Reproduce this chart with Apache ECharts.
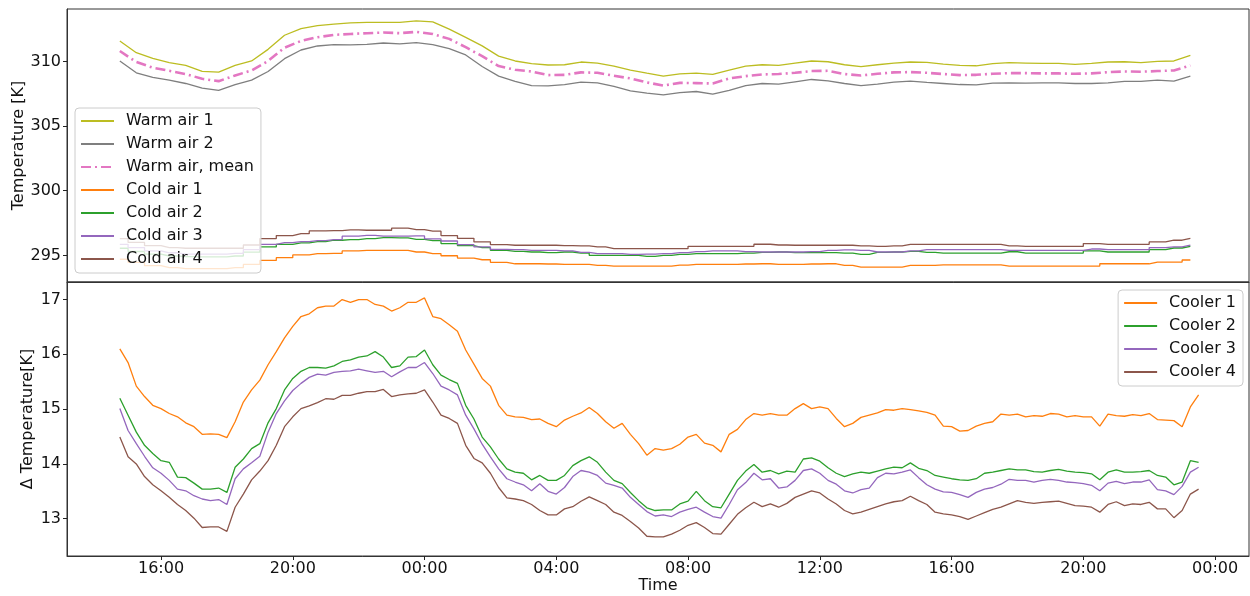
<!DOCTYPE html>
<html>
<head>
<meta charset="utf-8">
<title>Air temperatures and cooler delta</title>
<script src="https://cdn.jsdelivr.net/npm/echarts@6/dist/echarts.min.js"></script>
<style>
  html, body { margin: 0; padding: 0; background: #fff; }
  #main { width: 1250px; height: 596px; }
</style>
</head>
<body>
<div id="main"></div>
<script>
// sample grids (hours since midnight of day 1)
var airStart = 14.75, airStep = 0.5;        // top panel, every 30 min
var coolerStart = 14.75, coolerStep = 0.25; // bottom panel, every 15 min

// tick positions on the time axis (hours), shown as HH:00
var timeTicks = [16, 20, 24, 28, 32, 36, 40, 44, 48];
var tempTicks = [295, 300, 305, 310];
var deltaTicks = [13, 14, 15, 16, 17];

// top panel [K]
var warmAir1 = [311.58, 310.67, 310.23, 309.90, 309.69, 309.22, 309.17, 309.69, 310.03, 310.93, 312.02, 312.54, 312.77, 312.88, 312.98, 313.01, 313.01, 313.01, 313.13, 313.06, 312.49, 311.85,
  311.20, 310.41, 310.03, 309.82, 309.72, 309.74, 309.95, 309.87, 309.64, 309.33, 309.09, 308.86, 309.04, 309.09, 308.99, 309.33, 309.64, 309.74, 309.69, 309.87, 310.03, 309.97,
  309.74, 309.59, 309.74, 309.87, 309.95, 309.92, 309.79, 309.69, 309.66, 309.82, 309.90, 309.87, 309.84, 309.84, 309.77, 309.84, 309.95, 309.97, 309.90, 310.00, 310.03, 310.47];
var warmAir2 = [310.03, 309.12, 308.76, 308.55, 308.29, 307.93, 307.75, 308.21, 308.55, 309.22, 310.21, 310.88, 311.19, 311.30, 311.27, 311.32, 311.42, 311.35, 311.45, 311.30, 310.98, 310.50,
  309.60, 308.86, 308.45, 308.13, 308.11, 308.21, 308.39, 308.34, 308.06, 307.72, 307.54, 307.41, 307.59, 307.67, 307.46, 307.75, 308.13, 308.29, 308.24, 308.42, 308.60, 308.50,
  308.29, 308.13, 308.24, 308.39, 308.47, 308.37, 308.29, 308.21, 308.19, 308.32, 308.34, 308.32, 308.34, 308.34, 308.29, 308.29, 308.34, 308.45, 308.45, 308.55, 308.47, 308.86];
var warmMean = [310.80, 309.95, 309.51, 309.27, 309.02, 308.65, 308.47, 308.91, 309.30, 310.03, 311.06, 311.58, 311.87, 312.05, 312.12, 312.18, 312.23, 312.18, 312.28, 312.12, 311.74, 311.10,
  310.40, 309.64, 309.35, 309.22, 308.94, 308.96, 309.15, 309.12, 308.89, 308.68, 308.37, 308.13, 308.34, 308.32, 308.29, 308.68, 308.86, 308.99, 309.02, 309.12, 309.25, 309.27,
  309.02, 308.91, 309.04, 309.15, 309.17, 309.12, 309.02, 308.94, 308.96, 309.04, 309.09, 309.09, 309.07, 309.07, 309.04, 309.07, 309.17, 309.22, 309.20, 309.25, 309.30, 309.69];
var coldAir1 = [294.70, 294.45, 294.20, 294.05, 293.98, 293.97, 293.97, 294.05, 294.30,
  294.61, 294.82, 295.03, 295.13, 295.16, 295.34, 295.39, 295.39, 295.39, 295.26, 295.13, 294.97, 294.79, 294.66, 294.46, 294.35, 294.35, 294.33, 294.30, 294.30, 294.22, 294.17, 294.17, 294.17, 294.17, 294.25, 294.30, 294.30, 294.30, 294.33, 294.35, 294.30, 294.30, 294.33, 294.35,
  294.22, 294.09, 294.09, 294.09, 294.22, 294.22, 294.27, 294.27, 294.27, 294.27, 294.17, 294.17, 294.17, 294.17, 294.17, 294.17, 294.35, 294.35, 294.35, 294.48, 294.48, 294.64];
var coldAir2 = [295.55, 295.30, 295.10, 294.95, 294.90, 294.88, 294.88, 294.95, 295.25,
  295.65, 295.85, 295.96, 296.06, 296.17, 296.22, 296.30, 296.37, 296.35, 296.24, 296.14, 295.91, 295.75, 295.60, 295.39, 295.31, 295.26, 295.21, 295.26, 295.18, 295.00, 295.00, 295.00, 294.92, 295.00, 295.08, 295.13, 295.13, 295.13, 295.18, 295.23, 295.26, 295.21, 295.21, 295.21,
  295.18, 295.08, 295.23, 295.26, 295.31, 295.23, 295.18, 295.18, 295.18, 295.18, 295.28, 295.18, 295.18, 295.18, 295.18, 295.34, 295.26, 295.26, 295.26, 295.44, 295.57, 295.70];
var coldAir3 = [295.85, 295.60, 295.35, 295.20, 295.10, 295.10, 295.10, 295.15, 295.45,
  295.85, 295.98, 296.06, 296.14, 296.22, 296.48, 296.55, 296.48, 296.48, 296.50, 296.27, 296.11, 295.83, 295.65, 295.47, 295.44, 295.39, 295.39, 295.34, 295.23, 295.13, 295.13, 295.08, 295.10, 295.13, 295.21, 295.29, 295.34, 295.34, 295.29, 295.26, 295.26, 295.26, 295.29, 295.38,
  295.42, 295.39, 295.26, 295.26, 295.34, 295.44, 295.44, 295.44, 295.44, 295.44, 295.39, 295.39, 295.39, 295.39, 295.39, 295.49, 295.44, 295.44, 295.44, 295.60, 295.65, 295.80];
var coldAir4 = [296.30, 296.00, 295.75, 295.60, 295.55, 295.55, 295.55, 295.55, 295.80,
  296.30, 296.53, 296.68, 296.89, 296.92, 296.97, 296.94, 296.94, 297.10, 296.99, 296.87, 296.53, 296.32, 296.04, 295.83, 295.78, 295.78, 295.78, 295.75, 295.73, 295.65, 295.52, 295.52, 295.52, 295.52, 295.52, 295.70, 295.70, 295.70, 295.70, 295.86, 295.80, 295.78, 295.78, 295.78,
  295.78, 295.73, 295.70, 295.73, 295.85, 295.85, 295.85, 295.85, 295.85, 295.85, 295.73, 295.70, 295.70, 295.70, 295.70, 295.91, 295.85, 295.85, 295.85, 296.04, 296.17, 296.32];

// bottom panel, delta T [K]
var cooler1 = [16.10, 15.85, 15.42, 15.23, 15.07, 15.01, 14.92, 14.86, 14.75, 14.68, 14.54, 14.55, 14.54, 14.48, 14.77, 15.13, 15.35, 15.53, 15.81, 16.05, 16.30, 16.51, 16.69, 16.74, 16.85, 16.88, 16.88, 17.00, 16.95, 17.00, 17.00, 16.91, 16.88, 16.79, 16.85, 16.95, 16.95, 17.03, 16.69, 16.65, 16.54, 16.42, 16.08, 15.82,
  15.56, 15.42, 15.07, 14.89, 14.86, 14.85, 14.81, 14.82, 14.74, 14.68, 14.80, 14.87, 14.93, 15.03, 14.92, 14.77, 14.65, 14.74, 14.54, 14.37, 14.16, 14.28, 14.25, 14.28, 14.36, 14.49, 14.54, 14.38, 14.34, 14.22, 14.54, 14.63, 14.81, 14.92, 14.89, 14.92, 14.89, 14.89, 15.01, 15.10, 15.01, 15.04, 15.01, 14.83,
  14.68, 14.74, 14.85, 14.89, 14.93, 14.99, 14.98, 15.01, 14.99, 14.97, 14.94, 14.89, 14.69, 14.68, 14.60, 14.61, 14.69, 14.74, 14.77, 14.91, 14.89, 14.91, 14.86, 14.88, 14.87, 14.92, 14.91, 14.86, 14.88, 14.86, 14.86, 14.69, 14.91, 14.88, 14.87, 14.90, 14.88, 14.92, 14.81, 14.80, 14.79, 14.68, 15.04, 15.26];
var cooler2 = [15.20, 14.89, 14.58, 14.34, 14.19, 14.06, 14.03, 13.76, 13.75, 13.65, 13.54, 13.54, 13.56, 13.48, 13.94, 14.09, 14.28, 14.37, 14.75, 15.01, 15.35, 15.56, 15.69, 15.76, 15.76, 15.75, 15.79, 15.87, 15.90, 15.95, 15.97, 16.05, 15.95, 15.76, 15.79, 15.95, 15.96, 16.08, 15.81, 15.62, 15.54, 15.47, 15.07, 14.82,
  14.49, 14.31, 14.09, 13.91, 13.85, 13.83, 13.71, 13.79, 13.70, 13.70, 13.79, 13.97, 14.06, 14.13, 14.03, 13.85, 13.70, 13.64, 13.48, 13.33, 13.20, 13.15, 13.16, 13.16, 13.27, 13.32, 13.50, 13.33, 13.22, 13.20, 13.45, 13.70, 13.87, 13.99, 13.85, 13.88, 13.82, 13.87, 13.85, 14.09, 14.11, 14.05, 13.93, 13.83,
  13.77, 13.82, 13.85, 13.83, 13.87, 13.91, 13.94, 13.93, 14.02, 13.92, 13.88, 13.79, 13.76, 13.73, 13.71, 13.70, 13.73, 13.83, 13.85, 13.88, 13.91, 13.89, 13.89, 13.86, 13.85, 13.88, 13.90, 13.87, 13.85, 13.84, 13.82, 13.71, 13.85, 13.89, 13.85, 13.85, 13.86, 13.88, 13.79, 13.76, 13.62, 13.67, 14.06, 14.03];
var cooler3 = [15.01, 14.61, 14.37, 14.14, 13.93, 13.83, 13.70, 13.54, 13.51, 13.42, 13.36, 13.33, 13.35, 13.26, 13.73, 13.91, 14.02, 14.14, 14.58, 14.92, 15.15, 15.34, 15.47, 15.58, 15.64, 15.62, 15.67, 15.69, 15.70, 15.73, 15.70, 15.67, 15.69, 15.59, 15.68, 15.76, 15.76, 15.85, 15.65, 15.42, 15.35, 15.26, 14.89, 14.64,
  14.36, 14.13, 13.91, 13.73, 13.67, 13.62, 13.51, 13.64, 13.50, 13.45, 13.57, 13.77, 13.88, 13.85, 13.79, 13.65, 13.61, 13.56, 13.39, 13.26, 13.13, 13.05, 13.07, 13.04, 13.12, 13.17, 13.21, 13.12, 13.04, 13.01, 13.26, 13.53, 13.66, 13.83, 13.71, 13.73, 13.56, 13.58, 13.70, 13.88, 13.91, 13.83, 13.70, 13.63,
  13.51, 13.47, 13.53, 13.56, 13.75, 13.83, 13.82, 13.85, 13.89, 13.75, 13.62, 13.54, 13.49, 13.48, 13.44, 13.39, 13.48, 13.54, 13.57, 13.63, 13.72, 13.70, 13.70, 13.67, 13.70, 13.72, 13.70, 13.67, 13.66, 13.64, 13.61, 13.51, 13.65, 13.68, 13.64, 13.67, 13.67, 13.71, 13.53, 13.51, 13.44, 13.59, 13.85, 13.94];
var cooler4 = [14.49, 14.13, 14.00, 13.77, 13.62, 13.51, 13.39, 13.26, 13.15, 13.01, 12.84, 12.85, 12.85, 12.77, 13.21, 13.45, 13.71, 13.87, 14.06, 14.34, 14.68, 14.86, 15.01, 15.06, 15.12, 15.19, 15.18, 15.25, 15.25, 15.29, 15.32, 15.32, 15.36, 15.23, 15.26, 15.28, 15.29, 15.35, 15.13, 14.89, 14.83, 14.74, 14.34, 14.10,
  14.02, 13.83, 13.57, 13.38, 13.36, 13.33, 13.26, 13.15, 13.07, 13.07, 13.18, 13.22, 13.32, 13.40, 13.33, 13.26, 13.12, 13.06, 12.95, 12.83, 12.68, 12.67, 12.67, 12.72, 12.79, 12.88, 12.93, 12.84, 12.73, 12.72, 12.90, 13.08, 13.20, 13.30, 13.22, 13.27, 13.21, 13.28, 13.39, 13.45, 13.51, 13.47, 13.36, 13.27,
  13.15, 13.09, 13.12, 13.17, 13.22, 13.27, 13.31, 13.33, 13.41, 13.33, 13.26, 13.12, 13.09, 13.07, 13.04, 12.99, 13.05, 13.11, 13.17, 13.21, 13.27, 13.33, 13.30, 13.28, 13.30, 13.31, 13.32, 13.28, 13.24, 13.23, 13.21, 13.12, 13.26, 13.31, 13.24, 13.27, 13.26, 13.30, 13.18, 13.18, 13.02, 13.15, 13.45, 13.54];

var FONT = 'DejaVu Sans';
var TEXT = '#111';

function withTime(values, start, step) {
  return values.map(function (v, i) { return [start + i * step, v]; });
}
function hourLabel(h) {
  var hh = Math.round(h) % 24;
  return (hh < 10 ? '0' : '') + hh + ':00';
}
function line(name, color, values, start, step, panel, extra) {
  var s = {
    name: name, type: 'line',
    xAxisIndex: panel, yAxisIndex: panel,
    data: withTime(values, start, step),
    symbol: 'none', showSymbol: false,
    lineStyle: { color: color, width: 1.3 },
    itemStyle: { color: color },
    emphasis: { disabled: true },
    silent: true
  };
  if (extra) {
    for (var k in extra) s[k] = extra[k];
  }
  return s;
}
function legendBox(names, pos) {
  var lg = {
    data: names,
    orient: 'vertical',
    itemWidth: 33, itemHeight: 14, itemGap: 7,
    padding: [5, 7, 6, 5],
    backgroundColor: 'rgba(255,255,255,0.8)',
    borderColor: '#cccccc', borderWidth: 1, borderRadius: 4,
    selectedMode: false,
    // line series draw a circle in the legend when symbol is 'none'; hide it
    itemStyle: { opacity: 0 },
    textStyle: { fontFamily: FONT, fontSize: 16, color: TEXT, padding: [0, 0, 0, 7] }
  };
  for (var k in pos) lg[k] = pos[k];
  return lg;
}

var myChart = echarts.init(document.getElementById('main'), null, { renderer: 'canvas' });

var xMin = 13.146, xMax = 49.03;
var axisLineStyle = { color: '#333', width: 1 };

var option = {
  animation: false,
  backgroundColor: '#fff',
  textStyle: { fontFamily: FONT },
  grid: [
    { left: 67, right: 1, top: 9, height: 273, show: true, borderColor: '#333', borderWidth: 1, containLabel: false, outerBoundsMode: 'none' },
    { left: 67, right: 1, top: 282, height: 274, show: true, borderColor: '#333', borderWidth: 1, containLabel: false, outerBoundsMode: 'none' }
  ],
  legend: [
    legendBox(['Warm air 1', 'Warm air 2', 'Warm air, mean', 'Cold air 1', 'Cold air 2', 'Cold air 3', 'Cold air 4'], { left: 75, top: 108 }),
    legendBox(['Cooler 1', 'Cooler 2', 'Cooler 3', 'Cooler 4'], { right: 7, top: 290 })
  ],
  xAxis: [
    {
      gridIndex: 0, type: 'value', min: xMin, max: xMax,
      axisLine: { show: true, onZero: false, lineStyle: axisLineStyle },
      axisTick: { show: false },
      axisLabel: { show: false },
      splitLine: { show: false }
    },
    {
      gridIndex: 1, type: 'value', min: xMin, max: xMax,
      name: 'Time', nameLocation: 'middle', nameGap: 22, nameMoveOverlap: false,
      nameTextStyle: { fontFamily: FONT, fontSize: 16, color: TEXT },
      axisLine: { show: true, onZero: false, lineStyle: axisLineStyle },
      axisTick: { show: true, length: 4, customValues: timeTicks, lineStyle: { color: '#222' } },
      axisLabel: {
        customValues: timeTicks, formatter: hourLabel, margin: 5,
        fontFamily: FONT, fontSize: 16, color: TEXT
      },
      splitLine: { show: false }
    }
  ],
  yAxis: [
    {
      gridIndex: 0, type: 'value', min: 292.94, max: 314.05,
      name: 'Temperature [K]', nameLocation: 'middle', nameGap: 40, nameRotate: 90, nameMoveOverlap: false,
      nameTextStyle: { fontFamily: FONT, fontSize: 16, color: TEXT },
      axisLine: { show: true, onZero: false, lineStyle: axisLineStyle },
      axisTick: { show: true, length: 4, customValues: tempTicks, lineStyle: { color: '#222' } },
      axisLabel: { customValues: tempTicks, margin: 6, fontFamily: FONT, fontSize: 16, color: TEXT },
      splitLine: { show: false }
    },
    {
      gridIndex: 1, type: 'value', min: 12.32, max: 17.32,
      name: 'Δ Temperature[K]', nameLocation: 'middle', nameGap: 31, nameRotate: 90, nameMoveOverlap: false,
      nameTextStyle: { fontFamily: FONT, fontSize: 16, color: TEXT },
      axisLine: { show: true, onZero: false, lineStyle: axisLineStyle },
      axisTick: { show: true, length: 4, customValues: deltaTicks, lineStyle: { color: '#222' } },
      axisLabel: { customValues: deltaTicks, margin: 6, fontFamily: FONT, fontSize: 16, color: TEXT },
      splitLine: { show: false }
    }
  ],
  series: [
    line('Warm air 1', '#bcbd22', warmAir1, airStart, airStep, 0),
    line('Warm air 2', '#7f7f7f', warmAir2, airStart, airStep, 0),
    line('Warm air, mean', '#e377c2', warmMean, airStart, airStep, 0, {
      lineStyle: { color: '#e377c2', width: 2.6, type: [10, 4, 2, 4] }
    }),
    // cold air readings change in discrete steps
    line('Cold air 1', '#ff7f0e', coldAir1, airStart, airStep, 0, { step: 'middle' }),
    line('Cold air 2', '#2ca02c', coldAir2, airStart, airStep, 0, { step: 'middle' }),
    line('Cold air 3', '#9467bd', coldAir3, airStart, airStep, 0, { step: 'middle' }),
    line('Cold air 4', '#8c564b', coldAir4, airStart, airStep, 0, { step: 'middle' }),
    line('Cooler 1', '#ff7f0e', cooler1, coolerStart, coolerStep, 1),
    line('Cooler 2', '#2ca02c', cooler2, coolerStart, coolerStep, 1),
    line('Cooler 3', '#9467bd', cooler3, coolerStart, coolerStep, 1),
    line('Cooler 4', '#8c564b', cooler4, coolerStart, coolerStep, 1)
  ]
};

myChart.setOption(option);
</script>
</body>
</html>
